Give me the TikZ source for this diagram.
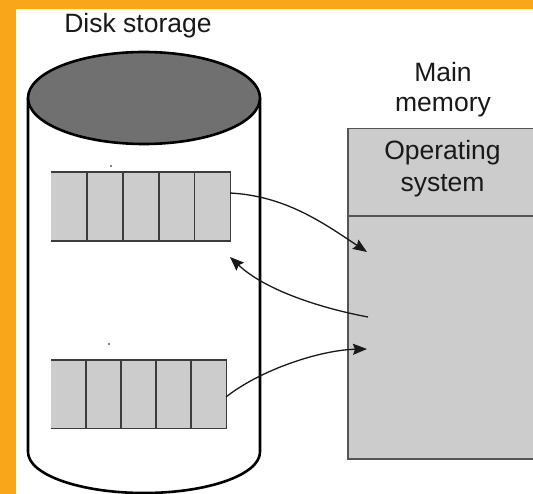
\documentclass[tikz,border=0pt]{standalone}
\usepackage{fontspec}
\setmainfont{Liberation Sans}
\usetikzlibrary{arrows.meta,calc}
\definecolor{frame}{RGB}{250,166,26}
\definecolor{topgray}{RGB}{112,112,112}
\definecolor{cellgray}{RGB}{204,204,204}
\definecolor{linegray}{RGB}{60,60,60}
\definecolor{boxline}{RGB}{85,85,85}
\begin{document}
\begin{tikzpicture}[x=1pt,y=-1pt,
  lbl/.style={font=\fontsize{26.5}{31}\selectfont, inner sep=0pt, anchor=base, text=black!90},
  record/.style={fill=cellgray, draw=none, inner sep=0pt, anchor=north west, minimum height=69pt},
  recline/.style={draw=linegray, line width=1.8pt},
  cyl/.style={draw=black, line width=2.6pt},
  membox/.style={draw=boxline, fill=cellgray, line width=1.5pt, inner sep=0pt, anchor=north west},
  arr/.style={draw=black!90, line width=1.3pt, -{Stealth[length=14pt,width=11pt,inset=2pt]}}]
\useasboundingbox (0,0) rectangle (533,494);
\fill[frame] (0,0) rectangle (533,494);
\fill[white] (16,9) rectangle (533,494);

% labels
\node[lbl] (disk) at (138,33) {Disk storage};
\node[lbl] (mm1) at (443,82) {Main};
\node[lbl] (mm2) at (443,112) {memory};

% main memory box
\node[membox, minimum width=200pt, minimum height=330pt] (mem) at (347,128) {};
\coordinate (div) at (0,216);
\draw[draw=boxline, line width=1.5pt] (mem.west |- div) -- (mem.east |- div);
\node[lbl] (os1) at (442.5,160) {Operating};
\node[lbl] (os2) at (442.5,192) {system};

% cylinder
\draw[cyl] (28,98) -- (28,452)
  .. controls (28,474.6) and (79.9,493) .. (144,493)
  .. controls (208.1,493) and (260,474.6) .. (260,452) -- (260,98);
\draw[cyl, fill=topgray] (144,98) ellipse [x radius=116, y radius=46];

% records
\node[record, minimum width=179pt] (r1) at (51,172) {};
\node[record, minimum width=175pt, minimum height=68pt] (r2) at (51,360) {};
\foreach \r in {r1,r2}{
  \draw[recline] (\r.north west) -- (\r.north east) -- (\r.south east) -- (\r.south west);
  \foreach \f in {0.2,0.4,0.6,0.8}
    \draw[recline] ($(\r.north west)!\f!(\r.north east)$) -- ($(\r.south west)!\f!(\r.south east)$);
}
\fill[black] (111,166) circle (0.9pt);
\fill[black] (109,344) circle (0.9pt);

% arrows
\coordinate (a1s) at (230,193);
\coordinate (a1e) at (367,252);
\coordinate (a2s) at (368,317);
\coordinate (a2e) at (230,257);
\coordinate (a3s) at (226,397);
\coordinate (a3e) at (367,349);
\draw[arr] (a1s) .. controls (285,196) and (322,222) .. (a1e);
\draw[arr] (a2s) .. controls (320,308) and (265,290) .. (a2e);
\draw[arr] (a3s) .. controls (260,370) and (320,350) .. (a3e);
\end{tikzpicture}
\end{document}
